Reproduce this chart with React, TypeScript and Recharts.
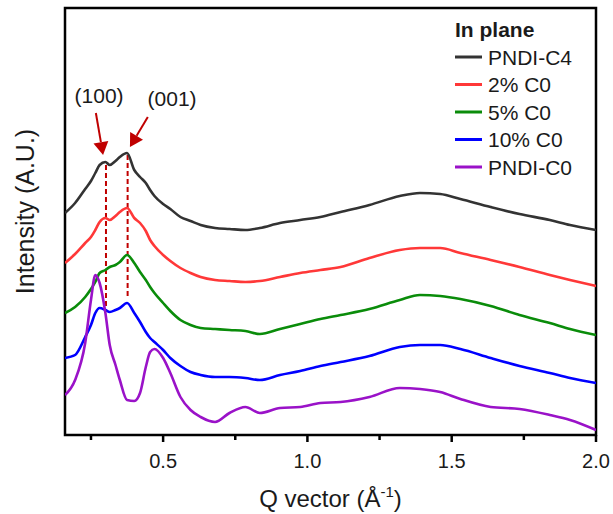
import React from 'react';
import { LineChart, Line, XAxis, YAxis, ReferenceLine, ReferenceArea, ReferenceDot, Legend } from 'recharts';

const qValues = [0.16, 0.195, 0.23, 0.25, 0.265, 0.28, 0.30, 0.315, 0.335, 0.35, 0.375, 0.40, 0.42, 0.44, 0.455, 0.47, 0.50, 0.525, 0.56, 0.595, 0.63, 0.68, 0.73, 0.785, 0.835, 0.905, 0.975, 1.045, 1.115, 1.215, 1.32, 1.39, 1.46, 1.53, 1.635, 1.735, 1.84, 1.91, 2.0];
const pndiC4 = [222, 232, 246, 254, 262, 270, 273, 270, 274, 278, 282, 265, 258, 252, 245, 239, 231, 226, 218, 214, 210, 207, 206, 205, 207, 212, 215, 218, 223, 230, 239, 242, 241, 236, 228, 221, 215, 210, 205];
const c0Two = [172, 181, 192, 198, 205, 213, 217, 215, 219, 223, 227, 217, 212, 204, 195, 189, 180, 174, 167, 162, 158, 155, 154, 153, 154, 158, 162, 165, 168, 177, 185, 187, 187, 182, 175, 168, 160, 155, 149];
const c0Five = [122, 128, 138, 146, 153, 162, 165, 168, 170, 173, 180, 172, 163, 155, 148, 142, 132, 124, 115, 110, 107, 106, 105, 104, 101, 106, 111, 116, 120, 126, 135, 140, 139, 136, 129, 120, 112, 106, 100];
const c0Ten = [77, 80, 98, 110, 122, 127, 125, 123, 125, 127, 132, 122, 113, 103, 97, 93, 85, 77, 69, 63, 60, 58, 58, 57, 55, 60, 64, 69, 73, 79, 88, 90, 90, 86, 77, 69, 62, 57, 52];
const pndiC0 = [40, 55, 92, 135, 160, 152, 122, 90, 70, 55, 35, 34, 42, 68, 83, 86, 77, 62, 38, 25, 18, 13, 22, 28, 22, 27, 28, 32, 33, 38, 47, 46, 43, 36, 28, 26, 20, 15, 5];

const seriesKeys = ['c4', 'c2', 'c5', 'c10', 'c0'];
const seriesNames = ['PNDI-C4', '2% C0', '5% C0', '10% C0', 'PNDI-C0'];
const seriesColors = ['#333333', '#ff3838', '#0a8c0a', '#0000ff', '#9a12c8'];
const seriesValues = [pndiC4, c0Two, c0Five, c0Ten, pndiC0];

const xTicks = [0.25, 0.5, 0.75, 1.0, 1.25, 1.5, 1.75, 2.0];
const xDomain = [0.16, 2.0];
const yDomain = [0, 427];

const peakLines = [
  { q: 0.302, from: 270, to: 129 },
  { q: 0.377, from: 280, to: 136 },
];
const arrows = [
  { fromQ: 0.267, fromI: 322, toQ: 0.292, toI: 280 },
  { fromQ: 0.447, fromI: 318, toQ: 0.385, toI: 288 },
];
const peakLabels = [
  { text: '(100)', q: 0.278, i: 332 },
  { text: '(001)', q: 0.531, i: 329 },
];

const data = qValues.map((q, idx) => {
  const row: any = { q };
  seriesKeys.forEach((k, s) => { row[k] = seriesValues[s][idx]; });
  return row;
});

const FONT = 'Arial, "Liberation Sans", sans-serif';
const ANN = '#c00000';

const XTick = (props: any) => {
  const { x, y, payload } = props;
  const v = payload.value;
  const major = Math.abs(v * 2 - Math.round(v * 2)) < 1e-6;
  return (
    <g>
      <line x1={x} x2={x} y1={y} y2={y + (major ? 7 : 5)} stroke="#000" strokeWidth={2.5} />
      {major && (
        <text x={x} y={y + 33} textAnchor="middle" fontSize={20} fontFamily={FONT} fill="#1a1a1a">
          {v.toFixed(1)}
        </text>
      )}
    </g>
  );
};

const ArrowShape = (props: any) => {
  const { x1, y1, x2, y2 } = props;
  const dx = x2 - x1;
  const dy = y2 - y1;
  const len = Math.sqrt(dx * dx + dy * dy) || 1;
  const ux = dx / len;
  const uy = dy / len;
  const headL = 13;
  const headW = 7.5;
  const bx = x2 - ux * headL;
  const by = y2 - uy * headL;
  const pts = `${x2},${y2} ${bx - uy * headW},${by + ux * headW} ${bx + uy * headW},${by - ux * headW}`;
  return (
    <g>
      <line x1={x1} y1={y1} x2={bx} y2={by} stroke={ANN} strokeWidth={2} />
      <polygon points={pts} fill={ANN} />
    </g>
  );
};

const renderLegend = () => (
  <svg width={160} height={170} style={{ display: 'block', overflow: 'visible' }}>
    <text x={5} y={23} fontSize={21} fontWeight="bold" fontFamily={FONT} fill="#1a1a1a">In plane</text>
    {seriesNames.map((n, i) => {
      const cy = 43 + i * 27.5;
      return (
        <g key={n}>
          <line x1={5} x2={32} y1={cy} y2={cy} stroke={seriesColors[i]} strokeWidth={3} />
          <text x={38} y={cy + 7.5} fontSize={21} fontFamily={FONT} fill="#1a1a1a">{n}</text>
        </g>
      );
    })}
  </svg>
);

const XLabel = (props: any) => {
  const vb = props.viewBox;
  return (
    <text x={vb.x + vb.width / 2} y={vb.y + 72} textAnchor="middle" fontSize={24} fontFamily={FONT} fill="#1a1a1a">
      Q vector (Å<tspan dy={-10} fontSize={15}>-1</tspan><tspan dy={10}>)</tspan>
    </text>
  );
};

const YLabel = (props: any) => {
  const vb = props.viewBox;
  const cx = vb.x + vb.width - 40;
  const cy = vb.y + vb.height / 2 - 10;
  return (
    <text x={cx} y={cy} transform={`rotate(-90, ${cx}, ${cy})`} textAnchor="middle" dominantBaseline="central" fontSize={25} fontFamily={FONT} fill="#1a1a1a">
      Intensity (A.U.)
    </text>
  );
};

export default function App() {
  return (
    <div style={{ position: 'absolute', left: 0, top: 0, width: 613, height: 514, background: '#fff' }}>
      <LineChart width={613} height={514} data={data} margin={{ top: 8, right: 17, bottom: 49, left: 25 }}>
        <XAxis
          dataKey="q"
          type="number"
          domain={xDomain}
          allowDataOverflow
          ticks={xTicks}
          interval={0}
          height={30}
          tickSize={0}
          tickMargin={0}
          tickLine={false}
          axisLine={false}
          tick={<XTick />}
          label={<XLabel />}
        />
        <YAxis type="number" domain={yDomain} allowDataOverflow width={40} tick={false} tickLine={false} axisLine={false} label={<YLabel />} />
        <Legend layout="vertical" align="center" verticalAlign="middle" content={renderLegend} wrapperStyle={{ left: 450, top: 14, width: 160, height: 170 }} />
        {peakLines.map((p, i) => (
          <ReferenceLine key={`pl${i}`} segment={[{ x: p.q, y: p.from }, { x: p.q, y: p.to }]} stroke={ANN} strokeWidth={2} strokeDasharray="5 3" />
        ))}
        {seriesKeys.map((k, i) => (
          <Line key={k} dataKey={k} name={seriesNames[i]} type="monotone" stroke={seriesColors[i]} strokeWidth={2.6} dot={false} isAnimationActive={false} />
        ))}
        {arrows.map((a, i) => (
          <ReferenceLine key={`ar${i}`} segment={[{ x: a.fromQ, y: a.fromI }, { x: a.toQ, y: a.toI }]} shape={ArrowShape} />
        ))}
        {peakLabels.map((l, i) => (
          <ReferenceDot
            key={`lb${i}`}
            x={l.q}
            y={l.i}
            r={0}
            shape={(p: any) => (
              <text x={p.cx} y={p.cy} textAnchor="middle" fontSize={21} fontFamily={FONT} fill="#1a1a1a">{l.text}</text>
            )}
          />
        ))}
        <ReferenceArea x1={xDomain[0]} x2={xDomain[1]} y1={yDomain[0]} y2={yDomain[1]} fill="none" fillOpacity={0} stroke="#000" strokeWidth={2.5} />
      </LineChart>
    </div>
  );
}
